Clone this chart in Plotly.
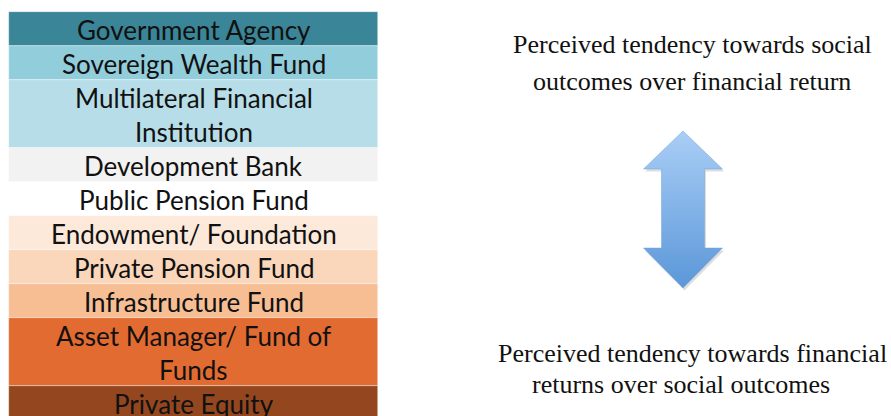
import plotly.graph_objects as go

# ---- data ----
categories = [
    "Government Agency",
    "Sovereign Wealth Fund",
    "Multilateral Financial\nInstitution",
    "Development Bank",
    "Public Pension Fund",
    "Endowment/ Foundation",
    "Private Pension Fund",
    "Infrastructure Fund",
    "Asset Manager/ Fund of\nFunds",
    "Private Equity",
]
row_colors = [
    "#3A8597", "#92CDDC", "#B7DEE8", "#F2F2F2", "#FFFFFF",
    "#FDE9DA", "#FAD6BA", "#F7BE94", "#E26B32", "#94471F",
]
top_label = ["Perceived tendency towards social", "outcomes over financial return"]
bottom_label = ["Perceived tendency towards financial", "returns over social outcomes"]

# ---- layout constants ----
W, H = 891, 416
ROW_H = 34
TABLE_TOP = 12
TABLE_X0, TABLE_X1 = 9, 378
cx = (TABLE_X0 + TABLE_X1) / 2

fig = go.Figure()

y = TABLE_TOP
label_annos = []
for cat, col in zip(categories, row_colors):
    lines = cat.split("\n")
    h = ROW_H * len(lines)
    fig.add_trace(go.Bar(
        x=[cx], y=[h], base=[y], width=TABLE_X1 - TABLE_X0,
        marker=dict(color=col, line=dict(color="rgba(255,255,255,0.6)", width=0.6)),
        hoverinfo="skip", showlegend=False,
    ))
    for i, ln in enumerate(lines):
        label_annos.append(dict(
            x=cx, y=y + ROW_H * (i + 0.5) + 1, text=ln, showarrow=False,
            xref="x", yref="y", xanchor="center", yanchor="middle",
            font=dict(family="Lato, Open Sans, sans-serif", size=26, color="#111111"),
        ))
    y += h

# ---- double arrow with vertical gradient ----
ax_c = 683
tip_t, head_t, head_b, tip_b = 131, 169, 248, 288
hw, sw = 39.5, 21.5
arrow_x = [ax_c, ax_c + hw, ax_c + sw, ax_c + sw, ax_c + hw, ax_c, ax_c - hw, ax_c - sw, ax_c - sw, ax_c - hw, ax_c]
arrow_y = [tip_t, head_t, head_t, head_b, head_b, tip_b, head_b, head_b, head_t, head_t, tip_t]
# soft shadow
fig.add_trace(go.Scatter(
    x=[v + 1.5 for v in arrow_x], y=[v + 2.5 for v in arrow_y], mode="lines",
    fill="toself", fillcolor="rgba(120,120,120,0.25)", line=dict(width=0),
    hoverinfo="skip", showlegend=False,
))
fig.add_trace(go.Scatter(
    x=arrow_x, y=arrow_y, mode="lines", fill="toself",
    fillgradient=dict(type="vertical", colorscale=[[0, "#5B97D8"], [1, "#A9CEF6"]]),
    line=dict(width=0.8, color="rgba(110,160,220,0.6)"),
    hoverinfo="skip", showlegend=False,
))

serif = dict(family="Liberation Serif, Times New Roman, serif", size=26, color="#111111")
text_annos = [
    dict(x=692, y=44, text=top_label[0]),
    dict(x=692, y=81, text=top_label[1]),
    dict(x=692, y=353, text=bottom_label[0]),
    dict(x=681, y=384, text=bottom_label[1]),
]
for a in text_annos:
    a.update(showarrow=False, xref="x", yref="y", xanchor="center", yanchor="middle", font=serif)

fig.update_layout(
    width=W, height=H,
    margin=dict(l=0, r=0, t=0, b=0),
    paper_bgcolor="white", plot_bgcolor="white",
    barmode="overlay", bargap=0,
    xaxis=dict(range=[0, W], visible=False, fixedrange=True),
    yaxis=dict(range=[H, 0], visible=False, fixedrange=True),
    annotations=label_annos + text_annos,
)

fig.write_html(
    "out.html",
    config={"displayModeBar": False},
    post_script="document.body.style.margin='0';document.body.style.overflow='hidden';",
)
